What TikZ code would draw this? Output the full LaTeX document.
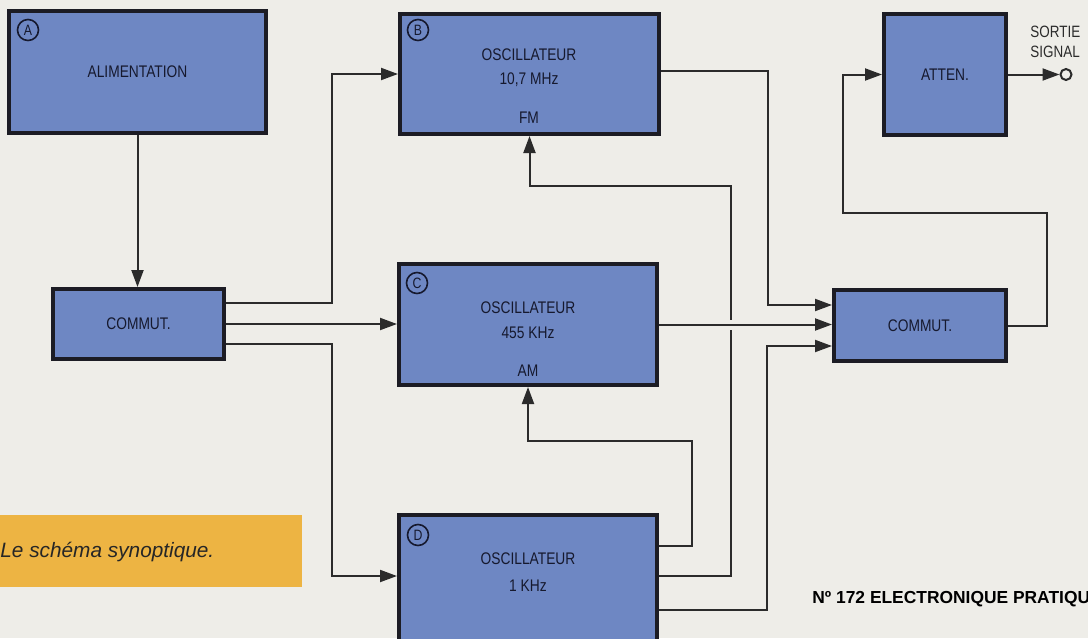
\documentclass[tikz,border=0pt]{standalone}
\usepackage{fontspec}
\setmainfont{Liberation Sans}
\newfontfamily\blockfont[FakeStretch=0.82]{Liberation Sans}
\usetikzlibrary{arrows.meta}
\definecolor{paper}{HTML}{EEEDE8}
\definecolor{boxblue}{HTML}{6E87C3}
\definecolor{boxedge}{HTML}{1C1C24}
\definecolor{wire}{HTML}{2B2B2B}
\definecolor{inkblue}{HTML}{16192E}
\definecolor{captionorange}{HTML}{EDB443}

\begin{document}
\begin{tikzpicture}[x=0.5pt,y=-0.5pt,>={Triangle[length=8.5pt,width=6pt]}]
  \tikzstyle{frame}=[draw=boxedge, line width=2.2pt, fill=boxblue, inner sep=0pt, font=\blockfont\fontsize{8.4}{10}\selectfont, text=inkblue]
  \tikzstyle{blocktext}=[font=\blockfont\fontsize{8.4}{10}\selectfont, text=inkblue, inner sep=0pt]
  \tikzstyle{tag}=[draw=inkblue, circle, line width=0.8pt, minimum size=10.5pt, inner sep=0pt, font=\blockfont\fontsize{7.5}{8}\selectfont, text=inkblue]
  \tikzstyle{conn}=[->, draw=wire, line width=1pt]
  \tikzstyle{captionbox}=[fill=captionorange, inner sep=0pt, minimum width=151pt, minimum height=36pt]

  \useasboundingbox (0,0) rectangle (1088,638);
  \clip (0,0) rectangle (1088,638);
  \fill[paper] (0,0) rectangle (1088,638);

  % left column
  \node[frame, minimum width=128.3pt, minimum height=60.8pt] (alim) at (137.5,72) {ALIMENTATION};
  \node[tag] (tagA) at (28,30) {A};
  \node[frame, minimum width=85.3pt, minimum height=34.8pt] (commutin) at (138.5,324) {COMMUT.};

  % oscillators
  \node[frame, minimum width=129.3pt, minimum height=59.8pt] (oscB) at (529.5,74) {};
  \node[tag] (tagB) at (418,30) {B};
  \node[blocktext] (oscBname) at (529,55) {OSCILLATEUR};
  \node[blocktext] (oscBfreq) at (529,80) {10,7 MHz};
  \node[blocktext] (oscBmode) at (529,118) {FM};

  \node[frame, minimum width=128.8pt, minimum height=60.3pt] (oscC) at (528,324.5) {};
  \node[tag] (tagC) at (417,283) {C};
  \node[blocktext] (oscCname) at (528,308) {OSCILLATEUR};
  \node[blocktext] (oscCfreq) at (528,333) {455 KHz};
  \node[blocktext] (oscCmode) at (528,371) {AM};

  \node[frame, minimum width=128.8pt, minimum height=71.3pt] (oscD) at (528,586.5) {};
  \node[tag] (tagD) at (418,535) {D};
  \node[blocktext] (oscDname) at (528,559) {OSCILLATEUR};
  \node[blocktext] (oscDfreq) at (528,586) {1 KHz};

  % right column
  \node[frame, minimum width=85.8pt, minimum height=35.3pt] (commutout) at (920,325.5) {COMMUT.};
  \node[frame, minimum width=60.8pt, minimum height=60.3pt] (atten) at (945,74.5) {ATTEN.};
  \node[draw=wire, fill=paper, circle, line width=1pt, minimum size=5.5pt, inner sep=0pt] (out) at (1066,74.5) {};
  \node[blocktext, font=\blockfont\fontsize{8.2}{10}\selectfont, text=wire, align=left, anchor=west] (outlabel) at (1030,42) {SORTIE\\SIGNAL};

  \coordinate (oscDin) at ([yshift=5.25pt]oscD.west);
  \coordinate (busL) at (332,324);
  \coordinate (busAM) at (692,441);
  \coordinate (busFM) at (731,186);
  \coordinate (busRtop) at (768,305);
  \coordinate (busR) at (767,346);
  \coordinate (loopR) at (1047,213);
  \coordinate (loopL) at (843,213);

  \draw[conn] (alim.south) -- (alim.south |- commutin.north);
  \draw[conn] ([yshift=10.5pt]commutin.east) -| (busL |- oscB.west) -- (oscB.west);
  \draw[conn] (commutin.east) -- (commutin.east -| oscC.west);
  \draw[conn] ([yshift=-10pt]commutin.east) -| (busL |- oscDin) -- (oscDin);

  \draw[conn] ([yshift=20.25pt]oscD.east) -| (busAM) -| (oscC.south);
  \draw[conn] ([yshift=5.25pt]oscD.east) -| (busFM) -| (oscB.south);
  \draw[conn] ([yshift=-11.75pt]oscD.east) -| (busR) -- (busR -| commutout.west);
  \draw[conn] ([yshift=1.5pt]oscB.east) -| (busRtop) -- (busRtop -| commutout.west);
  \draw[conn, preaction={draw=paper, line width=5pt, shorten <=30pt, shorten >=30pt}] (oscC.east) -- (oscC.east -| commutout.west);

  \draw[conn] (commutout.east) -| (loopR) -| (loopL |- atten.west) -- (atten.west);
  \draw[conn] (atten.east) -- (out.west);

  % caption and page footer
  \node[captionbox] (caption) at (150.5,551) {};
  \node[font=\itshape\fontsize{10.4}{12}\selectfont, text=black!85, inner sep=0pt, anchor=west] (captiontext) at (0,552) {Le schéma synoptique.};
  \node[font=\bfseries\fontsize{8.7}{10}\selectfont, text=black, inner sep=0pt, anchor=base west] (issue) at (812,603) {Nº 172 ELECTRONIQUE PRATIQU};
\end{tikzpicture}
\end{document}
